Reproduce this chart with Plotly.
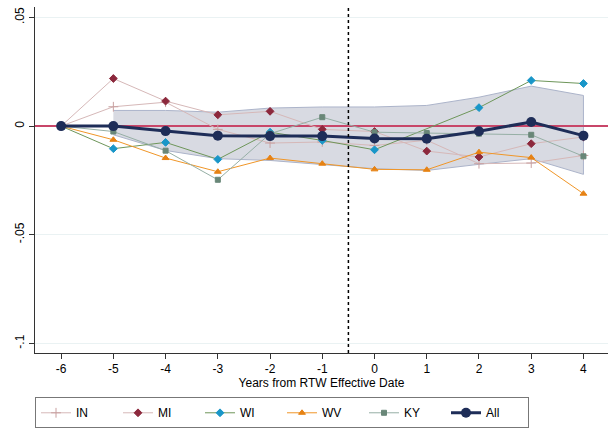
import plotly.graph_objects as go

years = [-6, -5, -4, -3, -2, -1, 0, 1, 2, 3, 4]
IN = [0, 0.0089, 0.011, -0.0015, -0.0078, -0.0073, -0.0089, -0.0065, -0.0173, -0.017, -0.0135]
MI = [0, 0.0219, 0.0115, 0.0052, 0.0068, -0.0015, -0.0025, -0.0115, -0.0142, -0.0081, -0.005]
WI = [0, -0.0104, -0.0075, -0.0153, -0.0028, -0.0066, -0.0109, None, 0.0085, 0.021, 0.0196]
WV = [0, -0.0063, -0.0147, -0.021, -0.0147, -0.0173, -0.0199, -0.0201, -0.012, -0.0145, -0.0311]
KY = [0, -0.0025, -0.0113, -0.0247, -0.0035, 0.0041, -0.0028, -0.0032, -0.0035, -0.004, -0.0139]
ALL = [0, 0, -0.0023, -0.0044, -0.0046, -0.0046, -0.0057, -0.0058, -0.0024, 0.0019, -0.0044]

band_years = [-5, -4, -3, -2, -1, 0, 1, 2, 3, 4]
band_upper = [0.0072, 0.0072, 0.0064, 0.0083, 0.0088, 0.0088, 0.0095, 0.0133, 0.0184, 0.0141]
band_lower = [-0.004, -0.0112, -0.015, -0.0158, -0.0176, -0.0196, -0.0204, -0.0176, -0.015, -0.0222]

y_ticks = [0.05, 0, -0.05, -0.1]
y_tick_labels = [".05", "0", "-.05", "-.1"]

fig = go.Figure()

# confidence band
fig.add_trace(go.Scatter(
    x=band_years + band_years[::-1],
    y=band_upper + band_lower[::-1],
    fill="toself", fillcolor="rgb(216,218,226)",
    line=dict(color="rgb(172,180,202)", width=1),
    mode="lines", showlegend=False, hoverinfo="skip"))

# zero line
fig.add_trace(go.Scatter(
    x=[-6.5, 4.5], y=[0, 0], mode="lines",
    line=dict(color="rgb(200,70,105)", width=2),
    showlegend=False, hoverinfo="skip"))

series = [
    ("IN", IN, "rgb(214,184,184)", "rgb(200,160,160)", "cross-thin", 7),
    ("MI", MI, "rgb(214,184,184)", "rgb(140,40,60)", "diamond", 6),
    ("WI", WI, "rgb(110,150,90)", "rgb(25,150,200)", "diamond", 6),
    ("WV", WV, "rgb(240,150,40)", "rgb(230,130,20)", "triangle-up", 6),
    ("KY", KY, "rgb(150,175,165)", "rgb(105,135,120)", "square", 5),
]
for name, vals, lc, mc, sym, sz in series:
    fig.add_trace(go.Scatter(
        x=years, y=vals, name=name, mode="lines+markers",
        connectgaps=True,
        line=dict(color=lc, width=1),
        marker=dict(color=mc, symbol=sym, size=sz,
                    line=dict(color=mc, width=1))))

fig.add_trace(go.Scatter(
    x=years, y=ALL, name="All", mode="lines+markers",
    line=dict(color="rgb(30,45,88)", width=3),
    marker=dict(color="rgb(30,45,88)", symbol="circle", size=10)))

fig.add_shape(type="line", x0=-0.5, x1=-0.5, y0=0, y1=1, yref="paper",
              line=dict(color="black", width=1.5, dash="dot"), layer="above")

fig.update_layout(
    width=609, height=429,
    margin=dict(l=35, r=1, t=7, b=76, autoexpand=False),
    paper_bgcolor="white", plot_bgcolor="white",
    font=dict(family="Liberation Sans, Arial, sans-serif", size=12, color="black"),
    xaxis=dict(range=[-6.5, 4.47], tickmode="array", tickvals=years,
               ticktext=[str(v) for v in years],
               showgrid=False, zeroline=False, showline=True,
               linecolor="#333", linewidth=1, ticks="outside", ticklen=5,
               tickcolor="#333",
               title=dict(text="Years from RTW Effective Date", standoff=2,
                          font=dict(size=12))),
    yaxis=dict(range=[-0.1044, 0.0548], tickmode="array", tickvals=y_ticks,
               ticktext=y_tick_labels, tickangle=-90,
               showgrid=True, gridcolor="rgb(234,242,243)", gridwidth=1,
               zeroline=False, showline=True, linecolor="#333", linewidth=1,
               ticks="outside", ticklen=5, tickcolor="#333"),
    legend=dict(orientation="h", x=0, xanchor="left", y=-0.128, yanchor="top",
                bordercolor="#777", borderwidth=1, bgcolor="white",
                entrywidth=37, entrywidthmode="pixels",
                font=dict(size=12), itemwidth=30,
                tracegroupgap=0),
    showlegend=True,
)

fig.write_html("out.html")
